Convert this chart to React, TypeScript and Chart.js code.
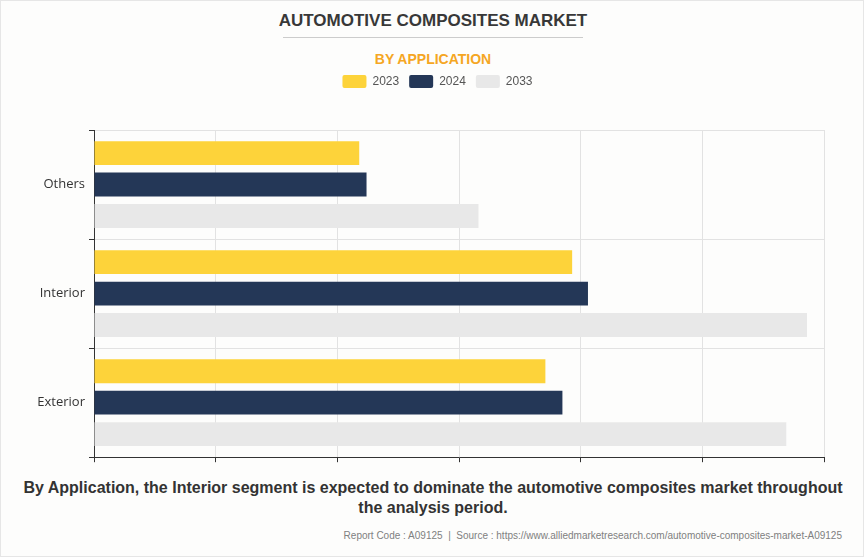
import React, { useEffect, useRef } from "react";
import { Chart, registerables } from "chart.js";

Chart.register(...registerables);

const categories = ["Others", "Interior", "Exterior"];
const seriesNames = ["2023", "2024", "2033"];
const values2023 = [2.18, 3.93, 3.71];
const values2024 = [2.24, 4.06, 3.85];
const values2033 = [3.16, 5.86, 5.69];
const seriesColors = ["#FDD33A", "#243757", "#E8E8E8"];

const TITLE = "AUTOMOTIVE COMPOSITES MARKET";
const SUBTITLE = "BY APPLICATION";
const CAPTION =
  "By Application, the Interior segment is expected to dominate the automotive composites market throughout the analysis period.";
const SOURCE =
  "Report Code : A09125  |  Source : https://www.alliedmarketresearch.com/automotive-composites-market-A09125";

export default function App() {
  const canvasRef = useRef<HTMLCanvasElement | null>(null);

  useEffect(() => {
    document.body.style.margin = "0";
    const canvas = canvasRef.current;
    if (!canvas) return;
    const legendSpacer = {
      id: "legendSpacer",
      beforeInit(chart: any) {
        const legend = chart.legend;
        if (!legend) return;
        const origFit = legend.fit;
        legend.fit = function () {
          origFit.call(this);
          this.height = 65;
        };
      },
      afterLayout(chart: any) {
        const legend = chart.legend;
        if (!legend) return;
        legend.left = 50;
        legend.right = chart.chartArea.right;
        legend.width = legend.right - legend.left;
      },
    };
    const chart = new Chart(canvas, {
      type: "bar",
      data: {
        labels: categories,
        datasets: [values2023, values2024, values2033].map((vals, i) => ({
          label: seriesNames[i],
          data: vals,
          backgroundColor: seriesColors[i],
          borderWidth: 0,
          categoryPercentage: 0.865,
          barPercentage: 0.76,
        })),
      },
      options: {
        indexAxis: "y",
        animation: false,
        responsive: false,
        maintainAspectRatio: false,
        layout: { padding: { left: 0, right: 41, top: 0, bottom: 0 } },
        plugins: {
          legend: {
            position: "top",
            align: "center",
            labels: {
              boxWidth: 24,
              boxHeight: 13,
              useBorderRadius: true,
              borderRadius: 2,
              padding: 10,
              color: "#555",
              font: { family: "'Liberation Sans', Arial, sans-serif", size: 12 },
            },
          },
          tooltip: { enabled: false },
        },
        scales: {
          x: {
            min: 0,
            max: 6,
            ticks: { display: false, stepSize: 1 },
            grid: {
              color: "#e2e2e2",
              tickColor: "#333",
              tickLength: 5,
              drawTicks: true,
            },
            border: { color: "#333", width: 1 },
          },
          y: {
            afterFit(scale: any) {
              scale.width = 93;
            },
            ticks: {
              color: "#333",
              padding: 4,
              font: { family: "'Open Sans', sans-serif", size: 13 },
            },
            grid: {
              color: "#e2e2e2",
              tickColor: "#333",
              tickLength: 5,
              offset: true,
            },
            border: { color: "#333", width: 1 },
          },
        },
      } as any,
      plugins: [legendSpacer],
    });
    return () => chart.destroy();
  }, []);

  return (
    <div
      style={{
        position: "absolute",
        left: 0,
        top: 0,
        width: 864,
        height: 557,
        boxSizing: "border-box",
        border: "1px solid #e6e6e6",
        background: "#fdfdfc",
        fontFamily: "'Liberation Sans', Arial, sans-serif",
        overflow: "hidden",
      }}
    >
      <div
        style={{
          position: "absolute",
          left: 0,
          top: 10,
          width: 864,
          textAlign: "center",
          fontWeight: "bold",
          fontSize: 17,
          lineHeight: "20px",
          color: "#383838",
        }}
      >
        {TITLE}
      </div>
      <div
        style={{
          position: "absolute",
          left: 282,
          top: 36,
          width: 300,
          height: 1,
          background: "#cccccc",
        }}
      />
      <div
        style={{
          position: "absolute",
          left: 0,
          top: 48,
          width: 864,
          textAlign: "center",
          fontWeight: "bold",
          fontSize: 14,
          lineHeight: "20px",
          color: "#F5A623",
        }}
      >
        {SUBTITLE}
      </div>
      <canvas
        ref={canvasRef}
        width={864}
        height={404}
        style={{ position: "absolute", left: 0, top: 64, width: 864, height: 404 }}
      />
      <div
        style={{
          position: "absolute",
          left: 12,
          top: 477,
          width: 840,
          textAlign: "center",
          fontWeight: "bold",
          fontSize: 16,
          lineHeight: "20px",
          color: "#333",
        }}
      >
        {CAPTION}
      </div>
      <div
        style={{
          position: "absolute",
          right: 21,
          top: 528,
          textAlign: "right",
          fontSize: 10,
          lineHeight: "14px",
          color: "#808080",
          whiteSpace: "pre",
        }}
      >
        {SOURCE}
      </div>
    </div>
  );
}
